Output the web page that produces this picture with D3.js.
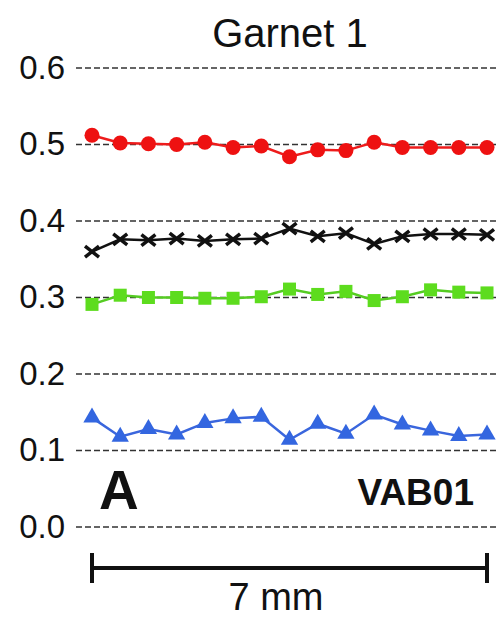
<!DOCTYPE html>
<html>
<head>
<meta charset="utf-8">
<script src="https://cdn.jsdelivr.net/npm/d3@7"></script>
<style>
  body { margin: 0; background: #fff; }
  svg text { font-family: Arial, "Liberation Sans", sans-serif; }
</style>
</head>
<body>
<div id="chart"></div>
<script>
// distance along the profile, mm
var distance = [0, 0.5, 1, 1.5, 2, 2.5, 3, 3.5, 4, 4.5, 5, 5.5, 6, 6.5, 7];
var yTicks = [0.0, 0.1, 0.2, 0.3, 0.4, 0.5, 0.6];

var red   = [0.512, 0.502, 0.501, 0.500, 0.503, 0.496, 0.498, 0.484, 0.493, 0.492, 0.503, 0.496, 0.496, 0.496, 0.496];
var black = [0.360, 0.376, 0.375, 0.377, 0.374, 0.376, 0.377, 0.390, 0.380, 0.384, 0.370, 0.380, 0.383, 0.383, 0.382];
var green = [0.291, 0.303, 0.300, 0.300, 0.299, 0.299, 0.301, 0.311, 0.304, 0.308, 0.296, 0.301, 0.310, 0.307, 0.306];
var blue  = [0.143, 0.118, 0.128, 0.121, 0.136, 0.142, 0.144, 0.114, 0.135, 0.122, 0.147, 0.134, 0.126, 0.119, 0.121];

var width = 498, height = 618;

var svg = d3.select('#chart')
  .append('svg')
    .attr('width', width)
    .attr('height', height);

var x = d3.scaleLinear().domain([0, 7]).range([92, 487]);
var y = d3.scaleLinear().domain([0, 0.6]).range([527, 68]);

// grid lines + labels
var grid = svg.append('g');
grid.selectAll('line').data(yTicks).enter().append('line')
  .attr('x1', 76).attr('x2', 498)
  .attr('y1', d => y(d)).attr('y2', d => y(d))
  .attr('stroke', '#333')
  .attr('stroke-width', 1.5)
  .attr('stroke-dasharray', '6,3');

grid.selectAll('text').data(yTicks).enter().append('text')
  .attr('x', 65)
  .attr('y', d => y(d))
  .attr('dy', '0.33em')
  .attr('text-anchor', 'end')
  .attr('font-size', 33)
  .attr('fill', '#111')
  .text(d => d.toFixed(1));

// title
svg.append('text')
  .attr('x', 290).attr('y', 47)
  .attr('text-anchor', 'middle')
  .attr('font-size', 40)
  .attr('fill', '#111')
  .text('Garnet 1');

function series(values, color) {
  var pts = values.map((v, i) => [distance[i], v]);
  var line = d3.line().x(d => x(d[0])).y(d => y(d[1]));
  svg.append('path')
    .datum(pts)
    .attr('d', line)
    .attr('fill', 'none')
    .attr('stroke', color)
    .attr('stroke-width', 2.5);
  return pts;
}

// red circles
var pr = series(red, '#ee1c1c');
svg.append('g').selectAll('circle').data(pr).enter().append('circle')
  .attr('cx', d => x(d[0])).attr('cy', d => y(d[1]))
  .attr('r', 7.5)
  .attr('fill', '#ee1111');

// black crosses
var pk = series(black, '#111');
svg.append('g').selectAll('path').data(pk).enter().append('path')
  .attr('transform', d => 'translate(' + x(d[0]) + ',' + y(d[1]) + ')')
  .attr('d', 'M-7,-5.5L7,5.5M-7,5.5L7,-5.5')
  .attr('stroke', '#111')
  .attr('stroke-width', 3.5)
  .attr('fill', 'none');

// green squares
var pg = series(green, '#55cc22');
svg.append('g').selectAll('rect').data(pg).enter().append('rect')
  .attr('x', d => x(d[0]) - 6.5).attr('y', d => y(d[1]) - 6.5)
  .attr('width', 13).attr('height', 13)
  .attr('fill', '#5ddc1e');

// blue triangles
var pb = series(blue, '#3a66dd');
var tri = d3.symbol().type(d3.symbolTriangle).size(130);
svg.append('g').selectAll('path').data(pb).enter().append('path')
  .attr('transform', d => 'translate(' + x(d[0]) + ',' + y(d[1]) + ')')
  .attr('d', tri)
  .attr('fill', '#3366e0');

// panel letter and sample name
svg.append('text')
  .attr('x', 99).attr('y', 509)
  .attr('font-size', 55)
  .attr('font-weight', 'bold')
  .attr('fill', '#111')
  .text('A');

svg.append('text')
  .attr('x', 474).attr('y', 505)
  .attr('text-anchor', 'end')
  .attr('font-size', 37)
  .attr('font-weight', 'bold')
  .attr('fill', '#111')
  .text('VAB01');

// scale bar 7 mm
var bar = svg.append('g').attr('stroke', '#111').attr('stroke-width', 4);
bar.append('line').attr('x1', x(0)).attr('x2', x(7)).attr('y1', 568).attr('y2', 568);
bar.append('line').attr('x1', x(0)).attr('x2', x(0)).attr('y1', 553).attr('y2', 583);
bar.append('line').attr('x1', x(7)).attr('x2', x(7)).attr('y1', 553).attr('y2', 583);

svg.append('text')
  .attr('x', 276).attr('y', 610)
  .attr('text-anchor', 'middle')
  .attr('font-size', 38)
  .attr('fill', '#111')
  .text('7 mm');
</script>
</body>
</html>
